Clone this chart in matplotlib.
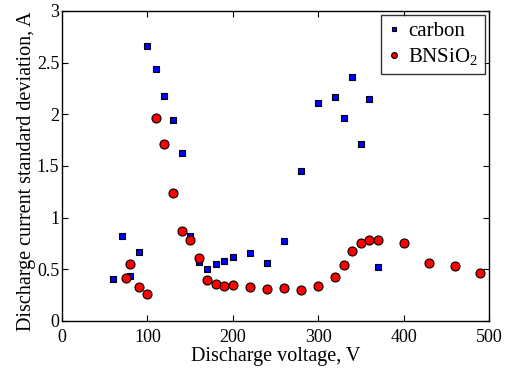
import matplotlib
matplotlib.use("Agg")
import matplotlib.pyplot as plt

carbon_v = [60, 70, 80, 90, 100, 110, 120, 130, 140, 150, 160, 170, 180, 190,
            200, 220, 240, 260, 280, 300, 320, 330, 340, 350, 360, 370]
carbon_sd = [0.41, 0.82, 0.44, 0.67, 2.665, 2.44, 2.175, 1.943, 1.626, 0.823,
             0.574, 0.50, 0.552, 0.581, 0.616, 0.655, 0.564, 0.771, 1.449,
             2.107, 2.165, 1.962, 2.365, 1.713, 2.149, 0.52]

bn_v = [75, 80, 90, 100, 110, 120, 130, 140, 150, 160, 170, 180, 190, 200,
        220, 240, 260, 280, 300, 320, 330, 340, 350, 360, 370, 400, 430, 460, 490]
bn_sd = [0.413, 0.555, 0.332, 0.264, 1.965, 1.71, 1.242, 0.874, 0.784, 0.613,
         0.397, 0.355, 0.342, 0.348, 0.329, 0.307, 0.322, 0.30, 0.336, 0.426,
         0.539, 0.674, 0.755, 0.781, 0.784, 0.755, 0.564, 0.532, 0.465]

x_ticks = [0, 100, 200, 300, 400, 500]
y_ticks = [0, 0.5, 1, 1.5, 2, 2.5, 3]

plt.rcParams['font.family'] = ['Liberation Serif', 'DejaVu Serif']
plt.rcParams['mathtext.fontset'] = 'custom'
plt.rcParams['mathtext.rm'] = 'Liberation Serif'

fig = plt.figure(figsize=(5.05, 3.71), dpi=100)
ax = fig.add_axes([0.1228, 0.1348, 0.8455, 0.8356])

ax.plot(carbon_v, carbon_sd, linestyle='none', marker='s', markersize=5,
        markerfacecolor='#0000ff', markeredgecolor='black', markeredgewidth=0.8,
        label='carbon')
ax.plot(bn_v, bn_sd, linestyle='none', marker='o', markersize=6.5,
        markerfacecolor='#ff0000', markeredgecolor='black', markeredgewidth=0.8,
        label='BNSiO$_2$')

ax.set_xlim(0, 500)
ax.set_ylim(0, 3)
ax.set_xticks(x_ticks)
ax.set_xticklabels([str(t) for t in x_ticks])
ax.set_yticks(y_ticks)
ax.set_yticklabels(['0', '0.5', '1', '1.5', '2', '2.5', '3'])
ax.tick_params(direction='in', top=True, right=True, length=4, width=0.8,
               labelsize=13)
ax.tick_params(axis='x', pad=5.5)
ax.tick_params(axis='y', pad=2)
for s in ax.spines.values():
    s.set_linewidth(1.0)

ax.set_xlabel('Discharge voltage, V', fontsize=14.5, labelpad=1)
ax.set_ylabel('Discharge current standard deviation, A', fontsize=14.5)
ax.yaxis.set_label_coords(-0.062, 0.482)

leg = ax.legend(loc='upper right', fontsize=15, frameon=True, fancybox=False,
                edgecolor='black', handlelength=0.6, handletextpad=0.4,
                borderpad=0.3, labelspacing=0.25, borderaxespad=0.2,
                markerscale=0.65)
leg.get_frame().set_linewidth(1.0)

fig.savefig('out.png', dpi=100)
